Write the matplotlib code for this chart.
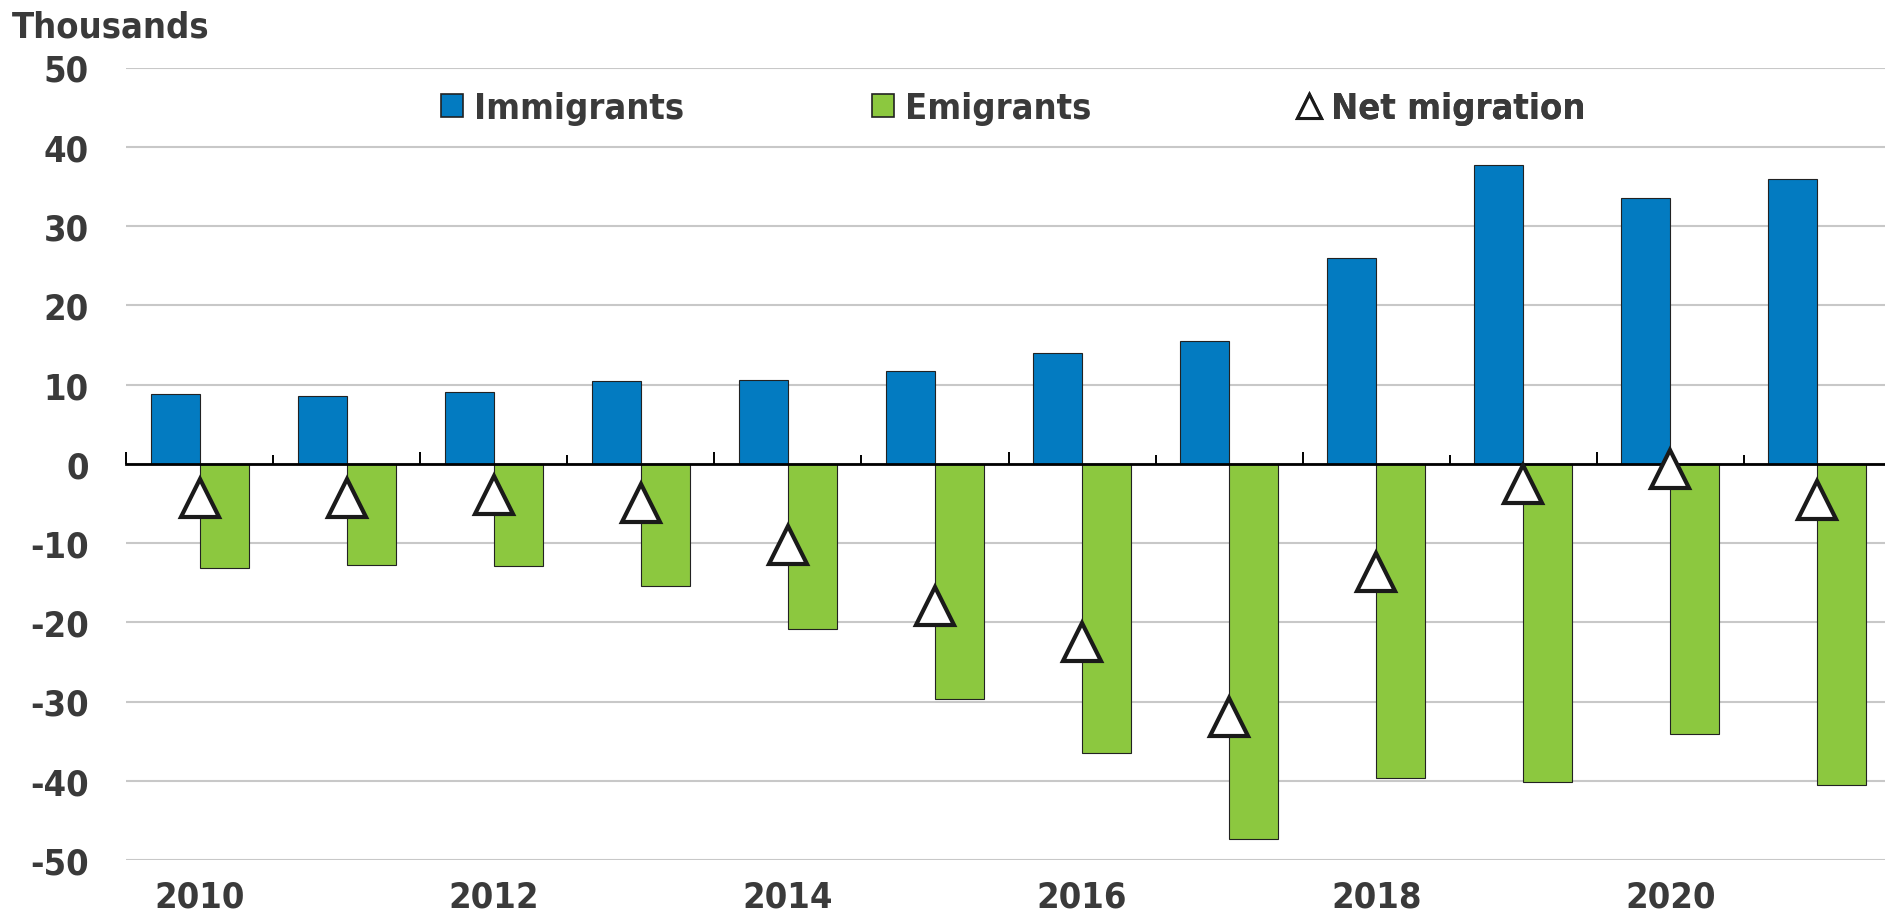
import matplotlib
matplotlib.use("Agg")
import matplotlib.pyplot as plt
import numpy as np
from matplotlib.patches import Patch
from matplotlib.lines import Line2D

# Datos (miles de personas)
years = [2010, 2011, 2012, 2013, 2014, 2015, 2016, 2017, 2018, 2019, 2020, 2021]
immigrants = [8.8, 8.5, 9.0, 10.4, 10.6, 11.7, 14.0, 15.5, 26.0, 37.7, 33.5, 35.9]
emigrants = [-13.1, -12.8, -12.9, -15.4, -20.9, -29.7, -36.5, -47.4, -39.6, -40.2, -34.1, -40.5]
net_migration = [-4.3, -4.3, -3.9, -5.0, -10.3, -18.0, -22.5, -31.9, -13.6, -2.5, -0.7, -4.6]
y_ticks = [-50, -40, -30, -20, -10, 0, 10, 20, 30, 40, 50]
series_names = ["Immigrants", "Emigrants", "Net migration"]

BLUE = "#037BC1"
GREEN = "#8CC83F"
TEXT = "#3A3A3A"
FS = 26

plt.rcParams["font.family"] = ["DejaVu Sans"]
plt.rcParams["font.stretch"] = "condensed"
plt.rcParams["font.weight"] = "bold"

fig = plt.figure(figsize=(18.85, 9.2), dpi=100)
ax = fig.add_axes([126 / 1885, 59 / 920, 1765 / 1885, 792.5 / 920])

x = np.arange(len(years))
w = 0.333
ax.bar(x - w / 2, immigrants, w, color=BLUE, edgecolor="#222222", linewidth=0.8, zorder=2)
ax.bar(x + w / 2, emigrants, w, color=GREEN, edgecolor="#222222", linewidth=0.8, zorder=2)
ax.plot(x, net_migration, linestyle="none", marker="^", markersize=28,
        markerfacecolor="white", markeredgecolor="#1a1a1a", markeredgewidth=3.0, zorder=5)

ax.set_xlim(-0.5, len(years) - 0.5)
ax.set_ylim(-50, 50)
ax.set_yticks(y_ticks)
ax.set_yticklabels([str(v) for v in y_ticks])
ax.grid(axis="y", color="#C8C8C8", linewidth=1.5, zorder=0)
ax.set_axisbelow(True)
for s in ax.spines.values():
    s.set_visible(False)

# Etiquetas del eje x: un año de cada dos
ax.set_xticks(x[::2])
ax.set_xticklabels([str(y) for y in years[::2]])
ax.tick_params(axis="both", length=0, labelsize=FS, labelcolor=TEXT)
ax.tick_params(axis="y", pad=27)
ax.tick_params(axis="x", pad=14)

# Eje en el cero con marcas entre categorías
sec = ax.secondary_xaxis(0, transform=ax.transData)
sec.set_zorder(4)
bounds = np.arange(len(years) + 1) - 0.5
sec.set_xticks(bounds[::2])
sec.set_xticks(bounds[1::2], minor=True)
sec.tick_params(which="both", direction="in", labelbottom=False, color="black", width=1.4)
sec.tick_params(which="major", length=9)
sec.tick_params(which="minor", length=6.5)
sec.spines["bottom"].set_linewidth(2.0)
sec.spines["bottom"].set_color("black")

# Leyenda: una entrada por serie, colocadas como en el original
handles = [
    Patch(facecolor=BLUE, edgecolor="#222222", linewidth=1.2),
    Patch(facecolor=GREEN, edgecolor="#222222", linewidth=1.2),
    Line2D([], [], linestyle="none", marker="^", markersize=17,
           markerfacecolor="white", markeredgecolor="#1a1a1a", markeredgewidth=2.2),
]
anchors = [0.1785, 0.4229, 0.6643]
for h, name, ax_x in zip(handles, series_names, anchors):
    leg = ax.legend([h], [name], frameon=False, loc="center left",
                    bbox_to_anchor=(ax_x, 0.949), borderpad=0, borderaxespad=0,
                    handlelength=0.6, handleheight=0.6, handletextpad=0.3, fontsize=FS)
    for t in leg.get_texts():
        t.set_color(TEXT)
    ax.add_artist(leg)

fig.text(12 / 1885, 1 - 27 / 920, "Thousands", ha="left", va="center",
         fontsize=FS, color=TEXT, fontweight="bold")

fig.savefig("out.png", dpi=100)
plt.close(fig)
